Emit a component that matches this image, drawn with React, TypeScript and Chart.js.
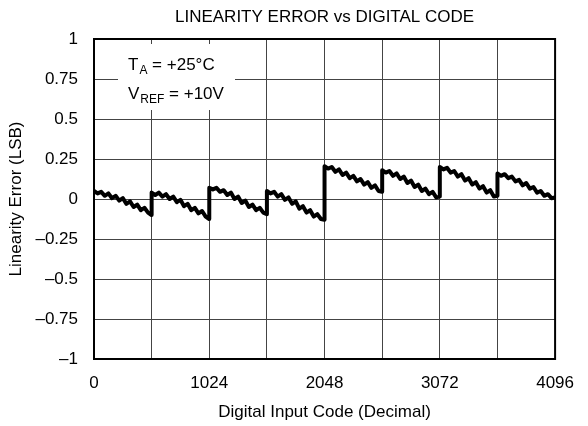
import React, { useEffect, useRef } from "react";
import { Chart, registerables } from "chart.js";

Chart.register(...registerables);

const chartTitle = "LINEARITY ERROR vs DIGITAL CODE";
const xAxisTitle = "Digital Input Code (Decimal)";
const yAxisTitle = "Linearity Error (LSB)";
const xLabeledTicks = [0, 1024, 2048, 3072, 4096];

const codes = [
  0, 32, 64, 96, 128, 160, 192, 224, 256, 288, 320, 352, 384, 416, 448, 480, 511,
  512, 544, 576, 608, 640, 672, 704, 736, 768, 800, 832, 864, 896, 928, 960, 992, 1023,
  1024, 1056, 1088, 1120, 1152, 1184, 1216, 1248, 1280, 1312, 1344, 1376, 1408, 1440, 1472, 1504, 1535,
  1536, 1568, 1600, 1632, 1664, 1696, 1728, 1760, 1792, 1824, 1856, 1888, 1920, 1952, 1984, 2016, 2047,
  2048, 2080, 2112, 2144, 2176, 2208, 2240, 2272, 2304, 2336, 2368, 2400, 2432, 2464, 2496, 2528, 2559,
  2560, 2592, 2624, 2656, 2688, 2720, 2752, 2784, 2816, 2848, 2880, 2912, 2944, 2976, 3008, 3040, 3071,
  3072, 3104, 3136, 3168, 3200, 3232, 3264, 3296, 3328, 3360, 3392, 3424, 3456, 3488, 3520, 3552, 3583,
  3584, 3616, 3648, 3680, 3712, 3744, 3776, 3808, 3840, 3872, 3904, 3936, 3968, 4000, 4032, 4064, 4095,
];

const errors = [
  0.05, 0.035, 0.045, 0.02, 0.035, 0.005, 0.02, -0.01, 0.005, -0.03, -0.015, -0.05, -0.035, -0.07, -0.055, -0.085, -0.1,
  0.04, 0.025, 0.04, 0.015, 0.03, 0.0, 0.015, -0.02, -0.005, -0.045, -0.03, -0.07, -0.055, -0.09, -0.075, -0.11, -0.125,
  0.07, 0.06, 0.07, 0.045, 0.055, 0.025, 0.04, 0.0, 0.015, -0.025, -0.01, -0.05, -0.035, -0.07, -0.055, -0.085, -0.095,
  0.05, 0.035, 0.045, 0.015, 0.03, -0.005, 0.01, -0.03, -0.015, -0.06, -0.045, -0.085, -0.07, -0.11, -0.095, -0.125, -0.13,
  0.205, 0.19, 0.2, 0.17, 0.185, 0.15, 0.165, 0.13, 0.145, 0.11, 0.125, 0.09, 0.105, 0.07, 0.085, 0.05, 0.045,
  0.18, 0.165, 0.175, 0.145, 0.16, 0.125, 0.14, 0.1, 0.115, 0.075, 0.09, 0.05, 0.065, 0.03, 0.045, 0.01, 0.015,
  0.2, 0.185, 0.195, 0.165, 0.175, 0.14, 0.155, 0.115, 0.13, 0.09, 0.105, 0.065, 0.08, 0.04, 0.055, 0.015, 0.02,
  0.16, 0.145, 0.155, 0.13, 0.14, 0.11, 0.12, 0.085, 0.1, 0.065, 0.075, 0.04, 0.05, 0.02, 0.03, 0.005, 0.01,
];

const FONT = "'Liberation Sans', Arial, Helvetica, sans-serif";

function fmtY(v: number): string {
  const s = String(Math.abs(v));
  return v < 0 ? "\u2013" + s : s;
}

const framePlugin = {
  id: "frameAndNote",
  beforeDatasetsDraw(chart: any) {
    const ctx = chart.ctx;
    ctx.save();
    ctx.fillStyle = "#ffffff";
    ctx.fillRect(118, 44, 117, 66);
    ctx.fillStyle = "#000000";
    ctx.textBaseline = "alphabetic";
    ctx.textAlign = "left";
    // line 1: T_A = +25°C
    ctx.font = `17px ${FONT}`;
    ctx.fillText("T", 128, 70);
    let x = 128 + ctx.measureText("T").width;
    ctx.font = `12px ${FONT}`;
    ctx.fillText("A", x + 1, 74);
    x += 1 + ctx.measureText("A").width;
    ctx.font = `17px ${FONT}`;
    ctx.fillText(" = +25\u00B0C", x, 70);
    // line 2: V_REF = +10V
    ctx.fillText("V", 128, 99);
    x = 128 + ctx.measureText("V").width;
    ctx.font = `12px ${FONT}`;
    ctx.fillText("REF", x + 1, 103);
    x += 1 + ctx.measureText("REF").width;
    ctx.font = `17px ${FONT}`;
    ctx.fillText(" = +10V", x, 99);
    ctx.restore();
  },
  afterDatasetsDraw(chart: any) {
    const { ctx, chartArea } = chart;
    ctx.save();
    ctx.strokeStyle = "#000000";
    ctx.lineWidth = 2;
    ctx.strokeRect(
      chartArea.left,
      chartArea.top,
      chartArea.right - chartArea.left,
      chartArea.bottom - chartArea.top
    );
    ctx.restore();
  },
};

export default function App() {
  const canvasRef = useRef<HTMLCanvasElement | null>(null);

  useEffect(() => {
    document.body.style.margin = "0";
    const canvas = canvasRef.current;
    if (!canvas) return;
    const points = codes.map((c, i) => ({ x: c, y: errors[i] }));
    const chart = new Chart(canvas, {
      type: "line",
      data: {
        datasets: [
          {
            data: points,
            borderColor: "#000000",
            borderWidth: 4,
            borderJoinStyle: "round",
            borderCapStyle: "round",
            pointRadius: 0,
            tension: 0,
            fill: false,
          },
        ],
      },
      options: {
        responsive: false,
        animation: false,
        devicePixelRatio: 1,
        layout: { padding: { left: 0, right: 23, top: 0, bottom: 0 } },
        plugins: {
          legend: { display: false },
          tooltip: { enabled: false },
          title: {
            display: true,
            text: chartTitle,
            fullSize: false,
            color: "#000000",
            font: { family: FONT, size: 17, weight: "normal" },
            padding: { top: 7, bottom: 11.6 },
          },
        },
        scales: {
          x: {
            type: "linear",
            min: 0,
            max: 4096,
            afterFit(scale: any) {
              scale.height = 67;
            },
            border: { display: false },
            grid: { color: "#444444", lineWidth: 1, drawTicks: false },
            ticks: {
              stepSize: 512,
              autoSkip: false,
              maxRotation: 0,
              padding: 14,
              color: "#000000",
              font: { family: FONT, size: 17 },
              callback: (v: any) => (xLabeledTicks.includes(Number(v)) ? String(v) : ""),
            },
            title: {
              display: true,
              text: xAxisTitle,
              color: "#000000",
              font: { family: FONT, size: 17 },
              padding: { top: 0, bottom: 3 },
            },
          },
          y: {
            type: "linear",
            min: -1,
            max: 1,
            afterFit(scale: any) {
              scale.width = 94;
            },
            border: { display: false },
            grid: { color: "#444444", lineWidth: 1, drawTicks: false },
            ticks: {
              stepSize: 0.25,
              padding: 16,
              color: "#000000",
              font: { family: FONT, size: 17 },
              callback: (v: any) => fmtY(Number(v)),
            },
            title: {
              display: true,
              text: yAxisTitle,
              color: "#000000",
              font: { family: FONT, size: 17 },
              padding: { top: 6, bottom: 0 },
            },
          },
        },
      } as any,
      plugins: [framePlugin],
    });
    return () => chart.destroy();
  }, []);

  return (
    <div style={{ position: "absolute", left: 0, top: 0, width: 588, height: 426, background: "#ffffff" }}>
      <canvas ref={canvasRef} width={588} height={426} />
    </div>
  );
}
